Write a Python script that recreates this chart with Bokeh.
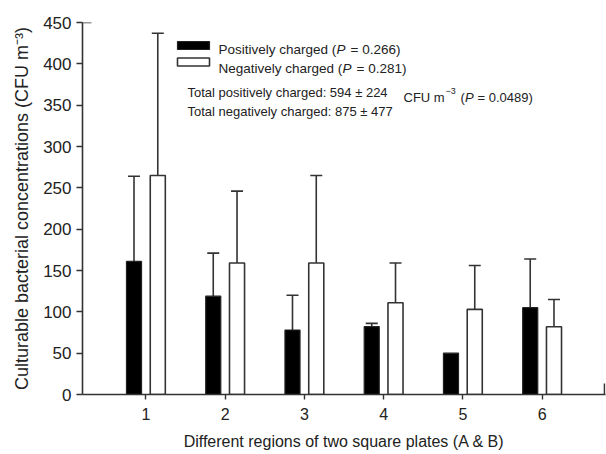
from bokeh.plotting import figure
from bokeh.models import (ColumnDataSource, Range1d, FixedTicker, Whisker, TeeHead, Label)
from bokeh.embed import file_html
from bokeh.resources import INLINE

# ---- data ----
regions = ["1", "2", "3", "4", "5", "6"]
positive_mean = [161, 119, 78, 82, 50, 105]
positive_sd = [103, 52, 42, 4, 0, 59]
negative_mean = [265, 159, 159, 111, 103, 82]
negative_sd = [172, 87, 106, 48, 53, 33]
y_ticks = [0, 50, 100, 150, 200, 250, 300, 350, 400, 450]

FONT = "Liberation Sans"
INK = "#222222"

W, H = 606, 454
BL, BR, BT, BB = 82, 1, 22, 60
X0, X1 = 0.2, 6.8
Y0, Y1 = 0, 450
FW = W - BL - BR
FH = H - BT - BB

def sx(px):
    return X0 + (px - BL) / FW * (X1 - X0)

def sy(py):
    return Y0 + (BT + FH - py) / FH * (Y1 - Y0)

p = figure(width=W, height=H, output_backend="svg", toolbar_location=None,
           x_range=Range1d(X0, X1), y_range=Range1d(Y0, Y1),
           min_border_left=BL, min_border_right=BR, min_border_top=BT, min_border_bottom=BB)
p.outline_line_color = None
p.xgrid.visible = False
p.ygrid.visible = False
p.background_fill_color = "white"
p.border_fill_color = "white"

xs = [i + 1 for i in range(len(regions))]
off = 0.15
bw = 0.19

pos_x = [x - off for x in xs]
neg_x = [x + off for x in xs]

src_pos = ColumnDataSource(dict(x=pos_x, top=positive_mean))
src_neg = ColumnDataSource(dict(x=neg_x, top=negative_mean))

p.vbar(x="x", top="top", width=bw, source=src_pos, fill_color="black", line_color=INK, line_width=1.2)
p.vbar(x="x", top="top", width=bw, source=src_neg, fill_color="white", line_color="#333333", line_width=1.6)

ep = dict(x=[], lower=[], upper=[])
for x, m, s in zip(pos_x, positive_mean, positive_sd):
    if s > 0:
        ep["x"].append(x); ep["lower"].append(m); ep["upper"].append(m + s)
for x, m, s in zip(neg_x, negative_mean, negative_sd):
    if s > 0:
        ep["x"].append(x); ep["lower"].append(m); ep["upper"].append(m + s)
err_src = ColumnDataSource(ep)
p.add_layout(Whisker(base="x", lower="lower", upper="upper", source=err_src, dimension="height",
                     line_color="#333333", line_width=1.6, lower_head=None,
                     upper_head=TeeHead(size=12, line_color="#333333", line_width=1.6)))

# axes
for ax in (p.xaxis[0], p.yaxis[0]):
    ax.axis_line_color = "#333333"
    ax.axis_line_width = 1.6
    ax.major_label_text_font = FONT
    ax.major_label_text_font_size = "17px"
    ax.major_label_text_color = INK
    ax.axis_label_text_font = FONT
    ax.axis_label_text_font_size = "16px"
    ax.axis_label_text_font_style = "normal"
    ax.axis_label_text_color = INK
    ax.minor_tick_line_color = None

p.yaxis.ticker = FixedTicker(ticks=y_ticks)
p.yaxis.major_tick_line_color = "#333333"
p.yaxis.major_tick_line_width = 1.4
p.yaxis.major_tick_out = 6
p.yaxis.major_tick_in = 0
p.yaxis.major_label_standoff = 5
p.yaxis.axis_label = "Culturable bacterial concentrations (CFU m\u207b\u00b3)"
p.yaxis.axis_label_text_font_size = "18px"
p.yaxis.axis_label_standoff = 8

p.xaxis.ticker = FixedTicker(ticks=xs)
p.xaxis.major_label_overrides = {x: r for x, r in zip(xs, regions)}
p.xaxis.major_label_text_font_size = "16px"
p.xaxis.major_tick_line_color = "#333333"
p.xaxis.major_tick_line_width = 1.4
p.xaxis.major_tick_out = 5
p.xaxis.major_tick_in = 0
p.xaxis.major_label_standoff = 8
p.xaxis.axis_label = "Different regions of two square plates (A & B)"
p.xaxis.axis_label_standoff = 10

# axis end caps
p.segment(x0=[X0], y0=[Y1], x1=[sx(BL + 9)], y1=[Y1], line_color="#333333", line_width=1.6)
p.segment(x0=[X1 - (X1 - X0) / FW * 1], y0=[Y0], x1=[X1 - (X1 - X0) / FW * 1], y1=[sy(BT + FH - 11)],
          line_color="#333333", line_width=1.6)

# legend
p.quad(left=[sx(177)], right=[sx(209)], top=[sy(41)], bottom=[sy(49)],
       fill_color="black", line_color=INK, line_width=1.2)
p.quad(left=[sx(177)], right=[sx(209)], top=[sy(57.5)], bottom=[sy(65.5)],
       fill_color="white", line_color="#333333", line_width=1.6)

def lab(txt, px, py, size="13.5px", style="normal"):
    p.add_layout(Label(x=sx(px), y=sy(py), text=txt, text_font=FONT, text_font_size=size,
                       text_font_style=style, text_color=INK, text_baseline="alphabetic",
                       text_align="left"))

lab("Positively charged (", 218, 49)
lab("P", 336, 49, style="italic")
lab("= 0.266)", 350, 49)
lab("Negatively charged (", 218, 67.5)
lab("P", 342, 67.5, style="italic")
lab("= 0.281)", 356, 67.5)

lab("Total positively charged: 594 \u00b1 224", 187, 92, size="13px")
lab("Total negatively charged: 875 \u00b1 477", 187, 110.5, size="13px")
lab("CFU m", 403, 97, size="13px")
lab("\u22123", 445, 90, size="9px")
lab("(", 460, 97, size="13px")
lab("P", 464.5, 97, size="13px", style="italic")
lab("= 0.0489)", 477, 97, size="13px")

open("out.html", "w").write(file_html(p, INLINE))
